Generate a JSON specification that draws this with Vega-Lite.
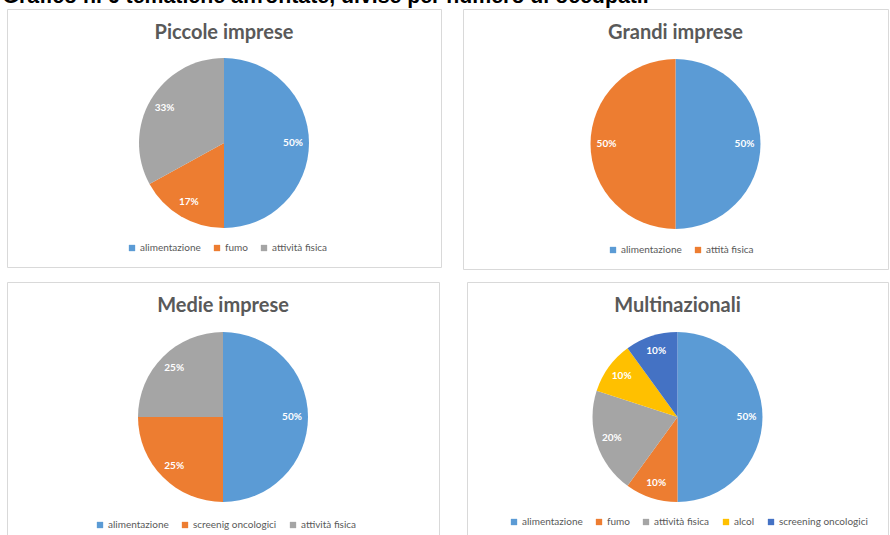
{
  "$schema": "https://vega.github.io/schema/vega-lite/v6.json",
  "padding": {"left": 2, "top": -14, "right": 0, "bottom": 0},
  "background": "white",
  "title": {"text": "Grafico n. 6 tematiche affrontate, divise per numero di occupati.", "anchor": "start", "font": "Liberation Sans", "fontSize": 21.3, "fontWeight": "bold", "color": "#000000", "offset": 1, "dx": -4},
  "config": {
    "view": {"stroke": "#d9d9d9", "strokeWidth": 1, "fill": "white"},
    "title": {"font": "Lato", "fontSize": 20, "fontWeight": "bold", "color": "#595959", "anchor": "middle", "offset": -34},
    "legend": {"orient": "none", "direction": "horizontal", "title": null, "symbolType": "square", "symbolSize": 40, "symbolStrokeWidth": 0, "labelFont": "Lato", "labelFontSize": 10, "labelColor": "#595959", "columnPadding": 11, "labelOffset": 3}
  },
  "datasets": {
    "piccole": [
      {"tema": "alimentazione", "valore": 50, "ord": 1, "etichetta": "50%"},
      {"tema": "fumo", "valore": 17, "ord": 2, "etichetta": "17%"},
      {"tema": "attività fisica", "valore": 33, "ord": 3, "etichetta": "33%"}
    ],
    "grandi": [
      {"tema": "alimentazione", "valore": 50, "ord": 1, "etichetta": "50%"},
      {"tema": "attità fisica", "valore": 50, "ord": 2, "etichetta": "50%"}
    ],
    "medie": [
      {"tema": "alimentazione", "valore": 50, "ord": 1, "etichetta": "50%"},
      {"tema": "screenig oncologici", "valore": 25, "ord": 2, "etichetta": "25%"},
      {"tema": "attività fisica", "valore": 25, "ord": 3, "etichetta": "25%"}
    ],
    "multi": [
      {"tema": "alimentazione", "valore": 50, "ord": 1, "etichetta": "50%"},
      {"tema": "fumo", "valore": 10, "ord": 2, "etichetta": "10%"},
      {"tema": "attività fisica", "valore": 20, "ord": 3, "etichetta": "20%"},
      {"tema": "alcol", "valore": 10, "ord": 4, "etichetta": "10%"},
      {"tema": "screening oncologici", "valore": 10, "ord": 5, "etichetta": "10%"}
    ]
  },
  "resolve": {"scale": {"color": "independent", "theta": "independent"}, "legend": {"color": "independent"}},
  "spacing": 11,
  "vconcat": [
    {
      "spacing": 20,
      "resolve": {"scale": {"color": "independent", "theta": "independent"}, "legend": {"color": "independent"}},
      "hconcat": [
        {
          "width": 434, "height": 258,
          "view": {"stroke": "#d9d9d9", "strokeWidth": 1, "fill": "white"},
          "title": "Piccole imprese",
          "data": {"name": "piccole"},
          "encoding": {
            "theta": {"field": "valore", "type": "quantitative", "stack": true},
            "order": {"field": "ord", "type": "quantitative"},
            "color": {"field": "tema", "type": "nominal", "scale": {"domain": ["alimentazione", "fumo", "attività fisica"], "range": ["#5B9BD5", "#ED7D31", "#A5A5A5"]}, "legend": {"legendX": 120, "legendY": 234}}
          },
          "layer": [
            {"mark": {"type": "arc", "outerRadius": 85, "yOffset": 5}},
            {"mark": {"type": "text", "radius": 69, "yOffset": 5, "font": "Lato", "fontSize": 10, "fontWeight": "bold"}, "encoding": {"text": {"field": "etichetta"}, "color": {"value": "white"}}}
          ]
        },
        {
          "width": 425, "height": 260,
          "view": {"stroke": "#d9d9d9", "strokeWidth": 1, "fill": "white"},
          "title": "Grandi imprese",
          "data": {"name": "grandi"},
          "encoding": {
            "theta": {"field": "valore", "type": "quantitative", "stack": true},
            "order": {"field": "ord", "type": "quantitative"},
            "color": {"field": "tema", "type": "nominal", "scale": {"domain": ["alimentazione", "attità fisica"], "range": ["#5B9BD5", "#ED7D31"]}, "legend": {"legendX": 145, "legendY": 236}}
          },
          "layer": [
            {"mark": {"type": "arc", "outerRadius": 85, "yOffset": 5}},
            {"mark": {"type": "text", "radius": 69, "yOffset": 5, "font": "Lato", "fontSize": 10, "fontWeight": "bold"}, "encoding": {"text": {"field": "etichetta"}, "color": {"value": "white"}}}
          ]
        }
      ]
    },
    {
      "spacing": 26,
      "resolve": {"scale": {"color": "independent", "theta": "independent"}, "legend": {"color": "independent"}},
      "hconcat": [
        {
          "width": 432, "height": 260,
          "view": {"stroke": "#d9d9d9", "strokeWidth": 1, "fill": "white"},
          "title": "Medie imprese",
          "data": {"name": "medie"},
          "encoding": {
            "theta": {"field": "valore", "type": "quantitative", "stack": true},
            "order": {"field": "ord", "type": "quantitative"},
            "color": {"field": "tema", "type": "nominal", "scale": {"domain": ["alimentazione", "screenig oncologici", "attività fisica"], "range": ["#5B9BD5", "#ED7D31", "#A5A5A5"]}, "legend": {"legendX": 88, "legendY": 238}}
          },
          "layer": [
            {"mark": {"type": "arc", "outerRadius": 85, "yOffset": 5}},
            {"mark": {"type": "text", "radius": 69, "yOffset": 5, "font": "Lato", "fontSize": 10, "fontWeight": "bold"}, "encoding": {"text": {"field": "etichetta"}, "color": {"value": "white"}}}
          ]
        },
        {
          "width": 421, "height": 260,
          "view": {"stroke": "#d9d9d9", "strokeWidth": 1, "fill": "white"},
          "title": "Multinazionali",
          "data": {"name": "multi"},
          "encoding": {
            "theta": {"field": "valore", "type": "quantitative", "stack": true},
            "order": {"field": "ord", "type": "quantitative"},
            "color": {"field": "tema", "type": "nominal", "scale": {"domain": ["alimentazione", "fumo", "attività fisica", "alcol", "screening oncologici"], "range": ["#5B9BD5", "#ED7D31", "#A5A5A5", "#FFC000", "#4472C4"]}, "legend": {"legendX": 42, "legendY": 235}}
          },
          "layer": [
            {"mark": {"type": "arc", "outerRadius": 85, "yOffset": 5}},
            {"mark": {"type": "text", "radius": 69, "yOffset": 5, "font": "Lato", "fontSize": 10, "fontWeight": "bold"}, "encoding": {"text": {"field": "etichetta"}, "color": {"value": "white"}}}
          ]
        }
      ]
    }
  ]
}
